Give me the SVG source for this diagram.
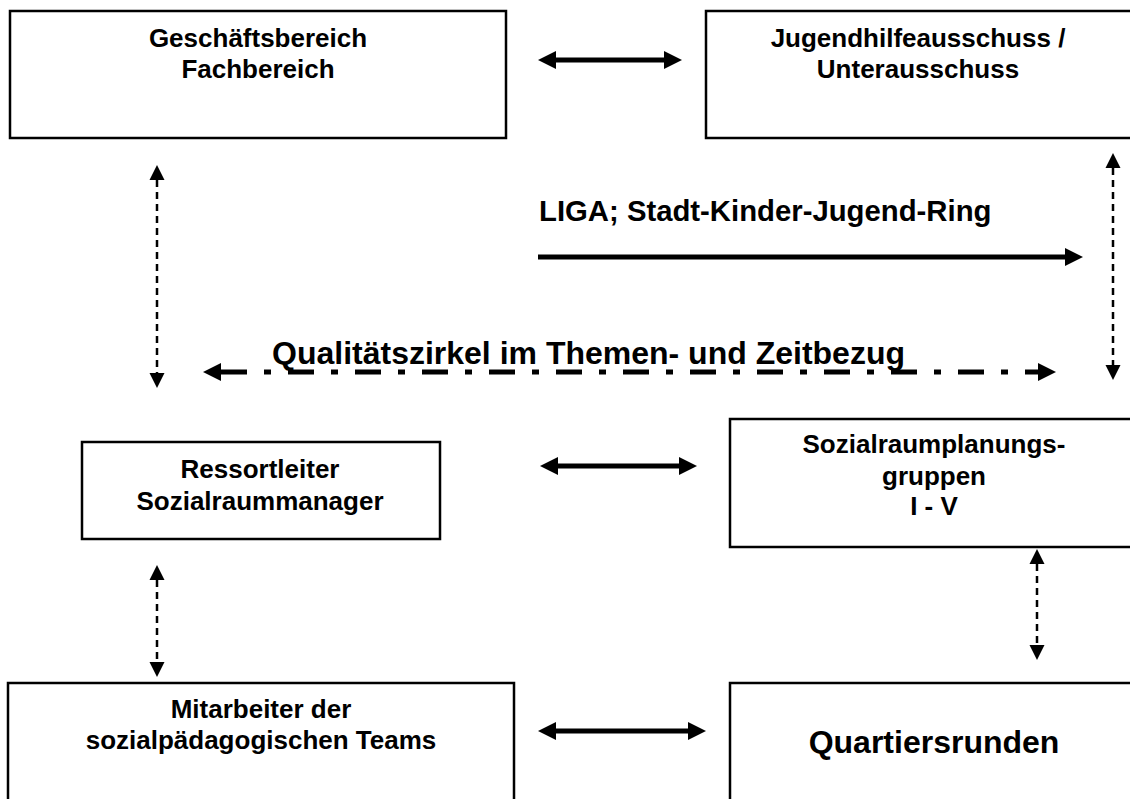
<svg xmlns="http://www.w3.org/2000/svg" width="1130" height="799" viewBox="0 0 1130 799">
<style>
.box{fill:#fff;stroke:#000;stroke-width:2.5}
.t{font-family:"Liberation Sans",Arial,sans-serif;font-weight:bold;font-size:26px;text-anchor:middle;fill:#000}
.solid{stroke:#000;stroke-width:5;fill:none}
.dash{stroke:#000;stroke-width:2.5;stroke-dasharray:7 5;fill:none}
.dd{stroke:#000;stroke-width:5;stroke-dasharray:26 17 7 17;fill:none}
</style>
<defs>
<marker id="ah" markerUnits="userSpaceOnUse" markerWidth="20" markerHeight="20" refX="0" refY="9" orient="auto-start-reverse" overflow="visible"><path d="M0,0 L18,9 L0,18 z" fill="#000"/></marker>
<marker id="ahs" markerUnits="userSpaceOnUse" markerWidth="16" markerHeight="16" refX="0" refY="7.5" orient="auto-start-reverse" overflow="visible"><path d="M0,0 L15,7.5 L0,15 z" fill="#000"/></marker>
</defs>
<rect width="1130" height="799" fill="#fff"/>
<g id="n1"><rect class="box" x="10" y="11" width="496" height="127"/><text class="t" x="258" y="47">Geschäftsbereich</text><text class="t" x="258" y="78">Fachbereich</text></g>
<g id="n2"><rect class="box" x="706" y="11" width="440" height="127"/><text class="t" x="918" y="47">Jugendhilfeausschuss /</text><text class="t" x="918" y="78">Unterausschuss</text></g>
<g id="n3"><rect class="box" x="82" y="442" width="358" height="97"/><text class="t" x="260" y="478">Ressortleiter</text><text class="t" x="260" y="510">Sozialraummanager</text></g>
<g id="n4"><rect class="box" x="730" y="419" width="420" height="128"/><text class="t" x="934" y="453">Sozialraumplanungs-</text><text class="t" x="934" y="485">gruppen</text><text class="t" x="934" y="515">I - V</text></g>
<g id="n5"><rect class="box" x="8" y="683" width="506" height="130"/><text class="t" x="261" y="718">Mitarbeiter der</text><text class="t" x="261" y="749">sozialpädagogischen Teams</text></g>
<g id="n6"><rect class="box" x="730" y="683" width="420" height="130"/><text class="t" x="934" y="753" style="font-size:32px">Quartiersrunden</text></g>
<g id="labels">
<text class="t" x="539" y="221" style="text-anchor:start;font-size:29.3px">LIGA; Stadt-Kinder-Jugend-Ring</text>
<text class="t" x="272" y="364" style="text-anchor:start;font-size:32px">Qualitätszirkel im Themen- und Zeitbezug</text>
</g>
<g id="connectors">
<line class="solid" x1="556" y1="60" x2="664" y2="60" marker-start="url(#ah)" marker-end="url(#ah)"/>
<line class="solid" x1="558" y1="466" x2="679" y2="466" marker-start="url(#ah)" marker-end="url(#ah)"/>
<line class="solid" x1="556" y1="731" x2="688" y2="731" marker-start="url(#ah)" marker-end="url(#ah)"/>
<line class="solid" x1="538" y1="257" x2="1065" y2="257" marker-end="url(#ah)"/>
<line class="dd" x1="221" y1="372" x2="1038" y2="372" marker-start="url(#ah)" marker-end="url(#ah)"/>
<line class="dash" x1="157" y1="180" x2="157" y2="373" marker-start="url(#ahs)" marker-end="url(#ahs)"/>
<line class="dash" x1="1113" y1="168" x2="1113" y2="365" marker-start="url(#ahs)" marker-end="url(#ahs)"/>
<line class="dash" x1="157" y1="580" x2="157" y2="662" marker-start="url(#ahs)" marker-end="url(#ahs)"/>
<line class="dash" x1="1037" y1="564" x2="1037" y2="645" marker-start="url(#ahs)" marker-end="url(#ahs)"/>
</g>
</svg>
